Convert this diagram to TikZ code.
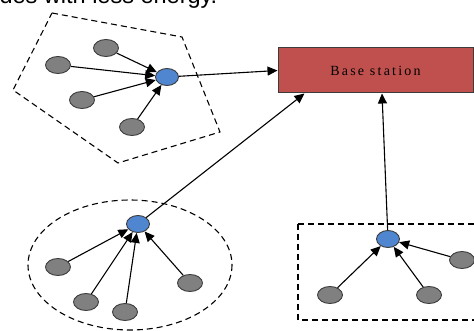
\documentclass[tikz,border=0pt]{standalone}
\usepackage{fontspec}
\setmainfont{Liberation Serif}
\newfontfamily\capfont{Liberation Sans}
\usetikzlibrary{shapes.geometric,arrows.meta}

\definecolor{nodegray}{HTML}{808080}
\definecolor{edgegray}{HTML}{3C3C3C}
\definecolor{headblue}{HTML}{4F86CF}
\definecolor{stationred}{HTML}{C0504D}

\begin{document}
\begin{tikzpicture}[x=1pt,y=-1pt,line width=1.1pt,
  sensor/.style={ellipse,draw=edgegray,fill=nodegray,line width=0.9pt,
    minimum width=25pt,minimum height=17pt,inner sep=0pt},
  head/.style={ellipse,draw=edgegray,fill=headblue,line width=0.9pt,
    minimum width=23pt,minimum height=17pt,inner sep=0pt},
  link/.style={-{Triangle[length=10pt,width=9pt]}},
  zone/.style={line width=1.1pt,dash pattern=on 6pt off 4pt}]
\useasboundingbox (0,0) rectangle (474,331);
\clip (0,0) rectangle (474,331);

% line of text above, cut by the page edge
\node[anchor=base west,inner sep=0pt] (caption) at (-1,4)
  {\capfont\fontsize{23.5}{28}\selectfont des with less energy.};

% base station
\node[draw=edgegray,fill=stationred,line width=1pt,minimum width=195pt,
  minimum height=45pt,inner sep=0pt] (base) at (375.5,70.5)
  {\fontsize{14}{17}\selectfont\addfontfeature{LetterSpace=16}Base station};

% cluster 1 (pentagon)
\draw[zone] (52,13) -- (182,37) -- (220,132) -- (118,163) -- (13,90) -- cycle;
\node[head] (b1) at (167,77) {};
\node[sensor] (s11) at (106,48) {};
\node[sensor] (s12) at (58,65) {};
\node[sensor] (s13) at (82,100) {};
\node[sensor] (s14) at (132,127) {};
\foreach \s in {s11,s12,s13,s14}
  \draw[link] (\s) -- (b1);
\draw[link] (b1) -- (base.west);

% cluster 2 (circle)
\draw[zone] (130,265) ellipse [x radius=102,y radius=65];
\node[head] (b2) at (138,224) {};
\node[sensor] (s21) at (58,267) {};
\node[sensor] (s22) at (86,302) {};
\node[sensor] (s23) at (125,312) {};
\node[sensor] (s24) at (190,283) {};
\foreach \s in {s21,s22,s23,s24}
  \draw[link] (\s) -- (b2);
\draw[link] (b2) -- ([xshift=27pt]base.south west);

% cluster 3 (box)
\draw[zone] (298,224) rectangle (490,320);
\node[head] (b3) at (388,239) {};
\node[sensor] (s31) at (330,295) {};
\node[sensor] (s32) at (429,295) {};
\node[sensor] (s33) at (462,260) {};
\foreach \s in {s31,s32,s33}
  \draw[link] (\s) -- (b3);
\draw[link] (b3) -- ([xshift=6.5pt]base.south);
\end{tikzpicture}
\end{document}
